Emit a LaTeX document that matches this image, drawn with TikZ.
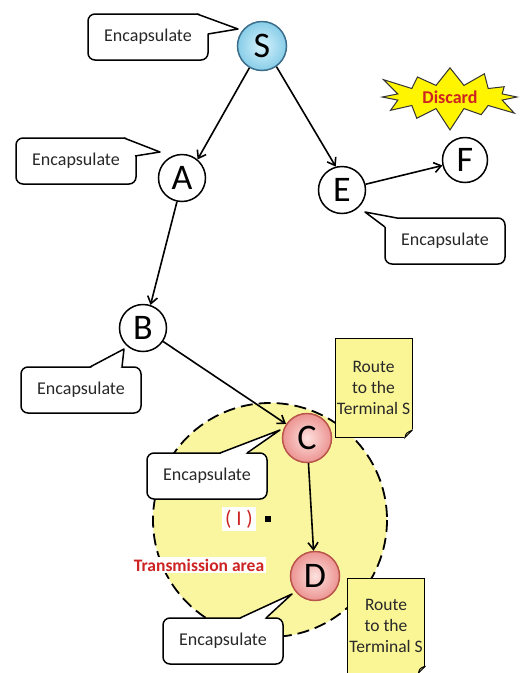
\documentclass[tikz,border=0pt]{standalone}
\usepackage{fontspec}
\setmainfont{Carlito}
\usetikzlibrary{arrows.meta,shapes.symbols,calc}
\definecolor{areaY}{RGB}{250,246,160}
\definecolor{noteY}{RGB}{250,246,150}
\definecolor{foldY}{RGB}{215,210,120}
\definecolor{txt}{RGB}{40,40,40}
\definecolor{redtxt}{RGB}{205,35,35}
\definecolor{sblueIn}{RGB}{215,242,252}
\definecolor{sblueOut}{RGB}{135,205,232}
\definecolor{sborder}{RGB}{60,110,140}
\definecolor{pinkIn}{RGB}{253,225,222}
\definecolor{pinkOut}{RGB}{236,148,146}
\definecolor{pinkBorder}{RGB}{185,85,75}
\definecolor{burstY}{RGB}{255,245,0}
\newcommand\calltail[5]{%
  \fill[white] #1 -- #2 -- #3 -- #4 -- #5 -- cycle;
  \draw[line width=1.5pt, line join=round] #1 -- #3 -- #4;}
\begin{document}
\begin{tikzpicture}[x=1pt,y=-1pt,
  station/.style={circle, draw, line width=1.5pt, fill=white, minimum size=47pt, inner sep=0pt, font=\fontsize{36}{36}\selectfont},
  srcnode/.style={station, draw=sborder, inner color=sblueIn, outer color=sblueOut, minimum size=49pt},
  relay/.style={station, draw=pinkBorder, inner color=pinkIn, outer color=pinkOut, minimum size=49pt},
  callbox/.style={draw, line width=1.5pt, fill=white, rounded corners=7pt, minimum width=120pt, minimum height=46pt, inner sep=0pt, text=txt, font=\fontsize{18}{18}\selectfont},
  link/.style={line width=1.6pt, -{Straight Barb[length=7pt,width=10pt,line width=1.6pt]}},
  notebox/.style={draw, line width=0.9pt, fill=noteY, minimum width=77pt, align=center, text=txt, inner sep=0pt, font=\fontsize{17.5}{21}\selectfont},
  redlabel/.style={fill=white, text=redtxt, inner sep=2pt, font=\bfseries\fontsize{17.5}{17.5}\selectfont},
]
\useasboundingbox (0,0) rectangle (521,673);
\fill[white] (0,0) rectangle (521,673);

% transmission area
\draw[line width=1.8pt, dash pattern=on 12pt off 6pt, fill=areaY] (270,520) circle[radius=117];
\node[redlabel] (trans) at (199,565) {Transmission area};
\node[redlabel, font=\fontsize{21}{21}\selectfont, inner sep=3pt] (iota) at (239,519) {( I )};
\node[fill=black, inner sep=0pt, minimum size=5.5pt] (dot) at (268,519) {};

% route notes
\node[notebox, minimum height=99pt] (n1) at (373.5,387.5) {Route\\to the\\Terminal S};
\fill[white] (413,429) -- (413,438) -- (404,438) -- cycle;
\draw[line width=0.9pt, fill=foldY] (412.5,430) -- (405,437.5) .. controls (406,433) .. (412.5,430);
\node[notebox, minimum height=95pt] (n2) at (386,625.5) {Route\\to the\\Terminal S};
\fill[white] (426,666) -- (426,674) -- (418,674) -- cycle;
\draw[line width=0.9pt, fill=foldY] (425.5,666) -- (418.5,673) .. controls (419.5,668.5) .. (425.5,666);

% discard burst
\node[starburst, starburst points=12, starburst point height=24pt, draw=black!80, line width=1pt, fill=burstY, minimum width=156pt, minimum height=72pt, inner sep=1pt, text=redtxt, font=\bfseries\fontsize{18}{18}\selectfont] (discard) at (450,97) {Discard};

% stations
\node[srcnode] (S) at (262,46) {S};
\node[station] (A) at (182,178) {A};
\node[station] (E) at (342,190) {E};
\node[station, minimum size=45pt] (F) at (465,160) {F};
\node[station] (B) at (143,328) {B};
\node[relay] (C) at (307,438) {C};
\node[relay] (D) at (315,576) {D};

% links
\draw[link] (S.240) -- (A.50);
\draw[link] (S.-55) -- (E.105);
\draw[link] (A.258) -- (B.72);
\draw[link] (B) -- (C);
\draw[link] (C) -- (D);
\draw[link] (E) -- (F);

% callouts
\node[callbox] (cS) at (148,37) {Encapsulate};
\calltail{(197,14)}{(212,10)}{(238,29)}{(208,34)}{(199,26)}
\node[callbox] (cA) at (76,161) {Encapsulate};
\calltail{(124,138)}{(138,134)}{(160,152)}{(135,156)}{(127,148)}
\node[callbox] (cB) at (81,390) {Encapsulate};
\calltail{(90,367)}{(90,367)}{(124,349)}{(122,367)}{(108,373)}
\node[callbox] (cE) at (445,241) {Encapsulate};
\calltail{(385,227)}{(385,227)}{(365,212)}{(397,218)}{(392,225)}
\node[callbox] (cC) at (207,476) {Encapsulate};
\calltail{(220,453)}{(220,453)}{(280,430)}{(247,453)}{(234,459)}
\node[callbox] (cD) at (223,641) {Encapsulate};
\calltail{(240,618)}{(240,618)}{(292,594)}{(266,618)}{(253,624)}
\end{tikzpicture}
\end{document}
